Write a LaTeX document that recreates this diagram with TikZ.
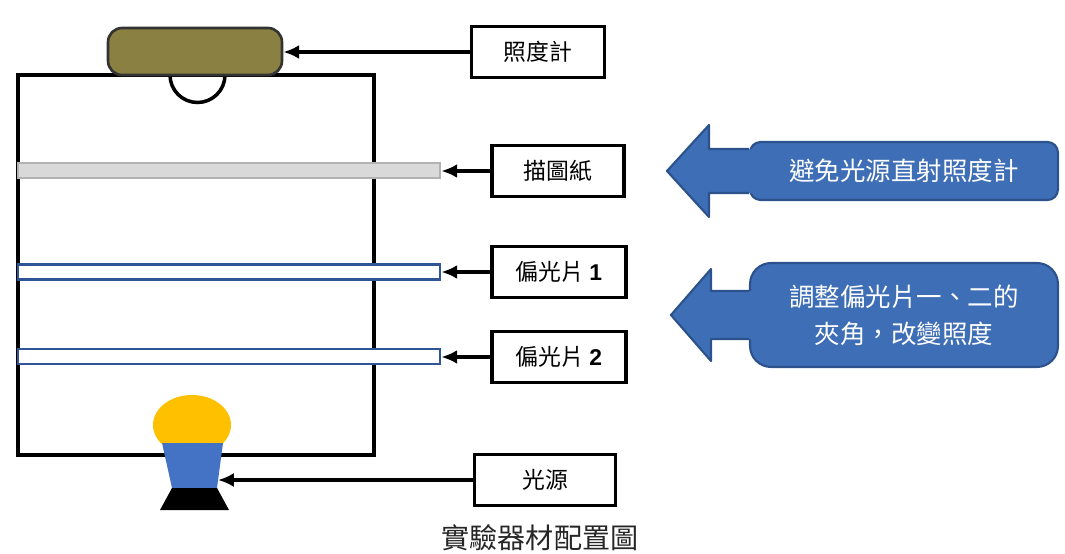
\documentclass[tikz,border=0pt]{standalone}
\usepackage{fontspec}
\newfontfamily\cjk{Noto Sans CJK TC}
\newfontfamily\digits{Liberation Sans}
\usetikzlibrary{arrows.meta, calc, positioning}

\definecolor{meterolive}{RGB}{138,128,66}
\definecolor{notefill}{RGB}{62,110,182}
\definecolor{noteedge}{RGB}{44,82,140}
\definecolor{filmblue}{RGB}{47,85,151}
\definecolor{bulbyellow}{RGB}{255,192,0}
\definecolor{bulbblue}{RGB}{68,114,196}

\begin{document}
\begin{tikzpicture}[
    x=0.02cm, y=-0.02cm,
    tag/.style={draw, line width=2.2pt, minimum height=1.02cm, font=\cjk\fontsize{13}{15}\selectfont},
    pointer/.style={line width=1.9pt, -{Latex[length=9pt, width=8pt]}},
    note/.style={draw=noteedge, line width=1.2pt, fill=notefill, rounded corners=6pt,
                 minimum width=6.16cm, text=white, align=center,
                 font=\cjk\fontsize{14.5}{21}\selectfont},
    film/.style={line width=1.6pt, minimum width=8.44cm, minimum height=0.3cm, inner sep=0pt},
    wall/.style={line width=2.3pt},
]
\useasboundingbox (0,0) rectangle (1065,554);

% =============================================================================
% Dark box with the lux meter on top
% =============================================================================
\draw[wall] (18,75) rectangle (374,455);
\draw[line width=2pt] (170,75) arc (180:0:27.5);
\node[draw=black!80, line width=1.5pt, fill=meterolive, rounded corners=8pt,
      minimum width=3.48cm, minimum height=0.94cm] (meter) at (195,51.5) {};

% Tracing paper and the two polarizers
\node[film, draw=gray!60, fill=gray!30] (paper) at (229,170.5) {};
\node[film, draw=filmblue, fill=white] (polA) at (229,272) {};
\node[film, draw=filmblue, fill=white] (polB) at (229,356.5) {};

% Light source
\begin{scope}
    \clip (150,390) rectangle (240,443);
    \fill[bulbyellow] (192,425) ellipse (39 and 30);
\end{scope}
\fill[bulbblue] (162,443) -- (223,443) -- (217,488) -- (172,488) -- cycle;
\fill[black] (172,488) -- (217,488) -- (229,510) -- (160,510) -- cycle;
\coordinate (lamp) at (218,480);

% =============================================================================
% Labels
% =============================================================================
\node[tag, minimum width=2.66cm] (tagMeter) at (538,52) {照度計};
\node[tag, minimum width=2.64cm] (tagPaper) at (558,171) {描圖紙};
\node[tag, minimum width=2.68cm] (tagPolA) at (559,272) {偏光片 {\digits\bfseries 1}};
\node[tag, minimum width=2.68cm] (tagPolB) at (559,357) {偏光片 {\digits\bfseries 2}};
\node[tag, minimum width=2.82cm] (tagLight) at (545,480) {光源};

\draw[pointer] (tagMeter.west) -- (meter.east |- tagMeter.west);
\draw[pointer] (tagPaper.west) -- (paper.east |- tagPaper.west);
\draw[pointer] (tagPolA.west) -- (polA.east |- tagPolA.west);
\draw[pointer] (tagPolB.west) -- (polB.east |- tagPolB.west);
\draw[pointer] (tagLight.west) -- (lamp |- tagLight.west);

% =============================================================================
% Callouts
% =============================================================================
\node[note, minimum height=1.16cm] (avoid) at (904,171) {避免光源直射照度計};
\fill[notefill] ($(avoid.west)+(6,-22)$) -- ++(-46,0) -- ++(0,-24) -- ++(-42,46)
    -- ++(42,46) -- ++(0,-24) -- ++(46,0) -- cycle;
\draw[noteedge, line width=1.2pt, line join=round] ($(avoid.west)+(0,-22)$) -- ++(-40,0)
    -- ++(0,-24) -- ++(-42,46) -- ++(42,46) -- ++(0,-24) -- ++(40,0);

\node[note, minimum height=2.08cm, rounded corners=12pt] (adjust) at (904,315)
    {調整偏光片一、二的\\夾角，改變照度};
\fill[notefill] ($(adjust.west)+(6,-24)$) -- ++(-44,0) -- ++(0,-22) -- ++(-40,46)
    -- ++(40,46) -- ++(0,-22) -- ++(44,0) -- cycle;
\draw[noteedge, line width=1.2pt, line join=round] ($(adjust.west)+(0,-24)$) -- ++(-38,0)
    -- ++(0,-22) -- ++(-40,46) -- ++(40,46) -- ++(0,-22) -- ++(38,0);

% Caption
\node[font=\cjk\fontsize{16}{18}\selectfont, text=black!85] (caption) at (540,538) {實驗器材配置圖};

\end{tikzpicture}
\end{document}
